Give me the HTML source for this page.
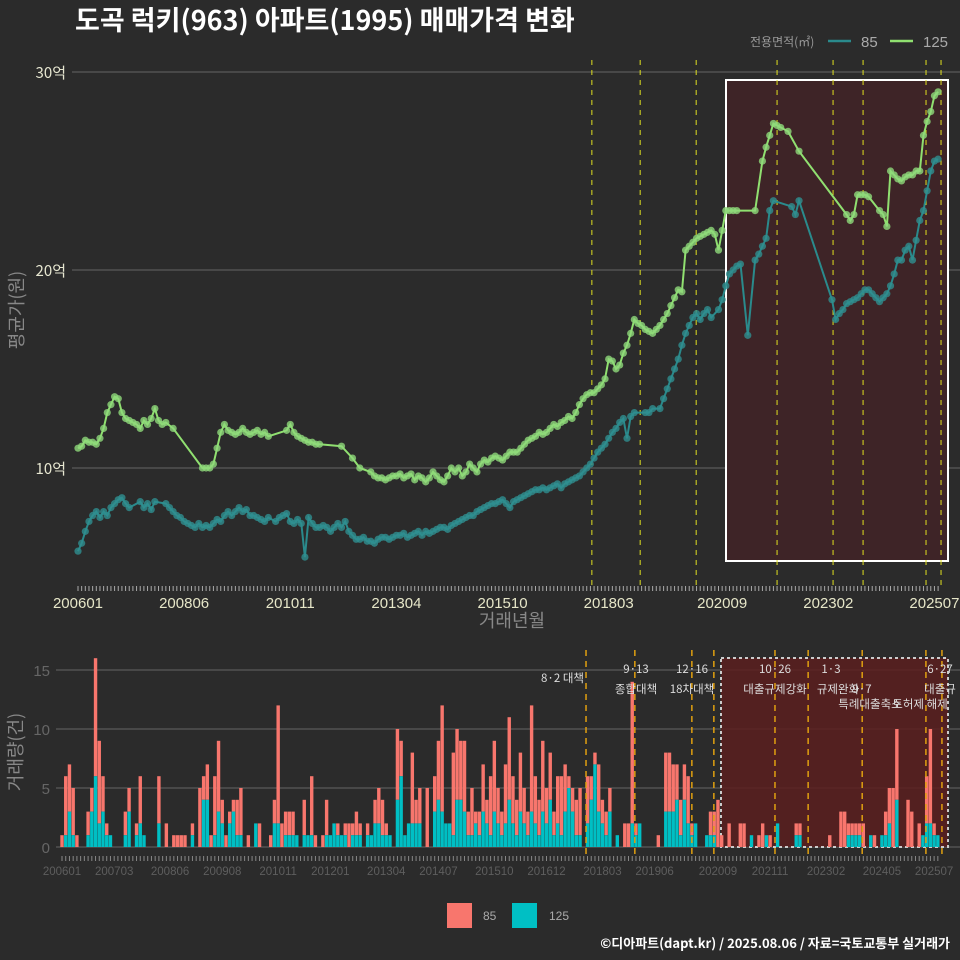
<!DOCTYPE html>
<html><head><meta charset="utf-8"><style>
html,body{margin:0;padding:0;background:#2b2b2b;}
svg{display:block;font-family:"Liberation Sans","Noto Sans CJK KR",sans-serif;}
</style></head><body>
<svg id="chart" width="960" height="960" viewBox="0 0 960 960" xmlns="http://www.w3.org/2000/svg">
<rect x="0" y="0" width="960" height="960" fill="#2b2b2b"/>
<text x="75" y="30" fill="#ffffff" font-size="27" font-weight="bold" font-family="'Noto Sans CJK KR',sans-serif">도곡 럭키(963) 아파트(1995) 매매가격 변화</text>
<g>
<text x="750" y="46" fill="#999" font-size="12" font-family="'Noto Sans CJK KR',sans-serif">전용면적(㎡)</text>
<line x1="828" y1="41" x2="851" y2="41" stroke="#2a8a8c" stroke-width="2.5"/>
<text x="861" y="47" fill="#aaa" font-size="15">85</text>
<line x1="890" y1="41" x2="913" y2="41" stroke="#90e070" stroke-width="2.5"/>
<text x="923" y="47" fill="#aaa" font-size="15">125</text>
</g>
<g id="topPanel"></g>
<g id="botPanel"></g>
<g>
<rect x="447" y="903" width="25" height="25" fill="#F8766D"/>
<text x="483" y="920" fill="#aaa" font-size="12">85</text>
<rect x="512" y="903" width="25" height="25" fill="#00BFC4"/>
<text x="549" y="920" fill="#aaa" font-size="12">125</text>
</g>
<text x="950" y="948" text-anchor="end" fill="#fff" font-size="13" font-weight="bold" font-family="'Noto Sans CJK KR',sans-serif">©디아파트(dapt.kr) / 2025.08.06 / 자료=국토교통부 실거래가</text>
</svg>
<script>
const N = null;
const price125 = [
11.0,11.1,11.4,11.3,11.3,11.2,11.5,12.0,12.8,13.2,13.6,13.5,
12.8,12.5,12.4,12.3,12.2,12.0,12.4,12.2,12.5,13.0,12.4,12.2,
12.3,N,12.0,N,N,N,N,N,N,N,10.0,10.0,
10.0,10.2,11.0,11.8,12.2,11.9,11.8,11.7,11.8,12.0,11.8,11.7,
11.8,11.9,11.7,11.8,11.6,N,N,N,N,11.9,12.2,11.8,
11.6,11.5,11.4,11.3,11.3,11.2,11.2,N,N,N,N,N,
11.1,N,N,10.5,N,10.0,N,N,9.8,9.6,9.5,9.5,
9.4,9.5,9.6,9.6,9.7,9.5,9.6,9.7,9.4,9.6,9.5,9.3,
9.5,9.8,9.6,9.4,9.3,9.6,10.0,9.8,10.0,9.6,9.8,10.2,
10.0,9.8,10.2,10.4,10.3,10.5,10.6,10.5,10.4,10.6,10.8,10.8,
10.8,11.0,11.2,11.4,11.5,11.6,11.8,11.7,11.8,12.0,12.2,12.1,
12.3,12.4,12.6,12.5,12.8,13.2,13.5,13.7,13.8,13.8,14.0,14.2,
14.5,15.5,15.4,15.0,15.2,15.8,16.2,16.8,17.5,17.3,17.2,17.0,
16.9,16.8,17.0,17.2,17.5,17.8,18.2,18.6,19.0,18.9,21.0,21.2,
21.4,21.6,21.7,21.8,21.9,22.0,21.8,21.0,22.0,23.0,23.0,23.0,
23.0,N,N,N,N,23.0,N,25.5,26.2,26.8,27.4,27.3,
27.2,N,27.0,N,N,26.0,N,N,N,N,N,N,
N,N,N,N,N,N,22.8,22.5,22.8,23.8,23.8,23.8,
23.7,N,N,23.0,22.8,22.2,25.0,24.8,24.6,24.5,24.7,24.8,
24.8,25.0,25.0,26.8,27.5,28.0,28.8,29.0];
const price85 = [
5.8,6.2,6.8,7.3,7.6,7.8,7.5,7.8,7.6,8.0,8.2,8.4,
8.5,8.2,8.0,N,N,8.3,8.0,8.2,7.9,8.3,N,N,
8.2,8.0,7.8,7.6,7.5,7.3,7.2,7.1,7.0,7.2,7.0,7.1,
7.0,7.2,7.4,7.3,7.6,7.8,7.6,7.8,8.0,7.8,7.9,7.6,
7.6,7.5,7.4,7.3,7.5,N,7.3,7.5,7.6,7.7,7.3,7.2,
7.4,7.2,5.5,7.5,7.2,7.0,7.0,7.1,7.0,6.8,7.0,7.2,
7.0,7.3,6.8,6.6,6.4,6.4,6.5,6.3,6.3,6.2,6.4,6.5,
6.5,6.4,6.5,6.6,6.6,6.7,6.5,6.6,6.7,6.8,6.6,6.8,
6.7,6.8,6.9,7.0,7.0,6.9,7.1,7.2,7.3,7.4,7.5,7.6,
7.6,7.8,7.9,8.0,8.1,8.2,8.2,8.3,8.4,8.2,8.0,8.3,
8.4,8.5,8.6,8.7,8.8,8.9,8.9,9.0,8.9,9.0,9.1,9.2,
9.0,9.2,9.3,9.4,9.5,9.6,9.8,10.0,10.2,10.5,10.8,11.0,
11.2,11.5,11.8,12.0,12.3,12.5,11.5,12.6,12.8,N,N,12.8,
12.8,13.0,N,13.0,13.5,14.0,14.5,15.0,15.5,16.2,16.8,17.2,
17.6,17.8,17.5,17.8,18.0,17.6,N,18.0,18.5,19.2,19.8,20.0,
20.2,20.3,N,16.7,N,20.5,20.8,21.2,21.6,23.0,23.5,N,
N,N,N,23.2,22.8,23.5,N,N,N,N,N,N,
N,N,18.5,17.5,17.8,18.0,18.3,18.4,18.5,18.6,18.8,19.0,
19.0,18.8,18.6,18.4,18.6,18.8,19.2,19.8,20.5,20.5,21.0,21.2,
20.5,21.5,22.5,23.0,24.0,25.0,25.5,25.6];
const vol85 = [
1,5,4,4,1,0,0,2,2,10,7,3,1,0,0,0,0,2,2,0,1,4,0,0,0,0,4,0,2,0,
1,1,1,1,0,1,0,5,2,3,1,5,6,2,1,1,1,3,4,0,1,0,0,2,0,0,1,2,10,2,
2,2,2,0,0,3,0,5,1,0,1,3,0,0,1,0,1,2,1,2,1,0,1,0,2,3,3,1,0,0,
6,3,0,0,6,2,3,0,5,0,3,5,9,0,0,7,6,5,6,2,4,1,2,4,2,5,6,3,2,5,
7,4,3,5,3,2,9,4,3,6,3,4,2,4,5,4,1,2,3,4,0,4,2,1,4,2,2,2,0,0,
0,2,2,12,1,0,0,0,0,0,1,0,5,5,4,3,3,3,4,1,0,0,0,0,2,2,4,1,0,2,
0,0,2,2,0,0,0,1,2,0,1,0,0,0,0,0,0,1,1,0,0,0,0,0,0,0,1,0,0,3,
3,1,1,1,1,2,0,0,1,0,0,2,3,5,6,0,0,4,3,0,2,0,4,8,1,0];
const vol125 = [
0,1,3,1,0,0,0,1,3,6,2,3,1,1,0,0,0,1,3,0,1,2,1,0,0,0,2,0,0,0,
0,0,0,0,0,1,0,0,4,4,0,1,3,2,0,2,3,1,1,0,0,0,2,0,0,0,0,2,2,0,
1,1,1,1,0,1,1,1,0,0,0,1,1,2,1,1,1,0,1,1,1,0,1,1,2,2,1,1,1,0,
4,6,1,2,2,2,2,0,0,0,3,4,3,2,2,1,4,4,3,1,1,2,1,3,2,1,3,2,1,2,
4,2,1,3,2,1,3,2,1,3,2,4,1,2,1,3,5,3,1,1,0,2,4,7,3,2,1,3,0,1,
0,0,0,2,1,2,0,0,0,0,0,0,3,3,3,4,1,4,2,1,2,0,0,1,1,1,0,0,0,0,
0,0,0,0,0,1,0,0,0,1,0,0,2,0,0,0,0,1,1,0,0,0,0,0,0,0,0,0,0,0,
0,1,1,1,1,0,0,1,0,0,1,1,2,0,4,0,0,0,0,0,0,1,2,2,1,1];
const priceTicks = [10,20,30];
const priceTickLabels = ["10억","20억","30억"];
const volTicks = [0,5,10,15];
const topXLabels = ["200601","200806","201011","201304","201510","201803","202009","202302","202507"];
const topXLabelMonths = [0,29,58,87,116,145,176,205,234];
const botXLabels = ["200601","200703","200806","200908","201011","201201","201304","201407","201510","201612","201803","201906","202009","202111","202302","202405","202507"];
const botXLabelMonths = [0,14,29,43,58,72,87,101,116,130,145,159,176,190,205,220,234];
const topPolicyMonths = [140.4,153.6,168.9,191,206.3,214.5,231.7,235.8];
const botPolicyMonths = [140.6,153.7,169,174.9,191.3,200.2,214.7,231.8,236.1];
const NM = 236;

const NS="http://www.w3.org/2000/svg";
function mk(tag, attrs, parent){const e=document.createElementNS(NS,tag);for(const k in attrs)e.setAttribute(k,attrs[k]);parent.appendChild(e);return e;}
const topG=document.getElementById('topPanel'), botG=document.getElementById('botPanel');
const tx = i => 78 + i*3.66;
const ty = v => 468 - (v-10)*19.8;
const bx = i => 62 + i*3.727;
const by = v => 847 - v*11.8;
const kr = "'Noto Sans CJK KR',sans-serif";

// ---- top panel ----
priceTicks.forEach((t,k)=>{
  const g=mk('line',{x1:72,x2:960,y1:ty(t),y2:ty(t),stroke:'#5a5a5a','stroke-width':1.2},topG);
  
  
  const l=mk('text',{x:66,y:ty(t)+6,'text-anchor':'end',fill:'#e6e6d0','font-size':15,'font-family':kr},topG);
  l.textContent=priceTickLabels[k];
  
  
});
const box=mk('rect',{x:726,y:80,width:222,height:481,fill:'#3e2427',stroke:'#ffffff','stroke-width':2},topG);


topPolicyMonths.forEach(m=>{
  const l=mk('line',{x1:tx(m),x2:tx(m),y1:60,y2:588,stroke:'#e0e020','stroke-width':1,'stroke-dasharray':'5,5'},topG);
  
  
});
function drawSeries(arr,color,ptColor,name){
  let d='';let first=true;
  arr.forEach((v,i)=>{ if(v===null)return; d+=(first?'M':'L')+tx(i).toFixed(1)+','+ty(v).toFixed(1); first=false;});
  const p=mk('path',{d:d,fill:'none',stroke:color,'stroke-width':2},topG);
  
  
  arr.forEach((v,i)=>{ if(v===null)return;
    const c=mk('circle',{cx:tx(i),cy:ty(v),r:3.6,fill:ptColor,'fill-opacity':0.8},topG);
    
    
  });
}
drawSeries(price85,'#2a8a8c','#2f8f90','series-85');
drawSeries(price125,'#90e070','#8fd97a','series-125');
for(let i=0;i<NM;i++){
  const t=mk('line',{x1:tx(i),x2:tx(i),y1:586,y2:591,stroke:'#aaa','stroke-width':1},topG);
  
  
}
topXLabels.forEach((s,k)=>{
  const t=mk('text',{x:tx(topXLabelMonths[k]),y:608,'text-anchor':'middle',fill:'#e6e6c8','font-size':15},topG);
  t.textContent=s;
  
  
});
const xt=mk('text',{x:512,y:627,'text-anchor':'middle',fill:'#888','font-size':18,'font-family':kr},topG);
xt.textContent='거래년월';


const yt=mk('text',{x:0,y:0,transform:'translate(23,310) rotate(-90)','text-anchor':'middle',fill:'#888','font-size':18,'font-family':kr},topG);
yt.textContent='평균가(원)';



// ---- bottom panel ----
volTicks.forEach(t=>{
  const g=mk('line',{x1:56,x2:960,y1:by(t),y2:by(t),stroke:'#5a5a5a','stroke-width':1.2},botG);
  
  
  const l=mk('text',{x:50,y:by(t)+6,'text-anchor':'end',fill:'#666','font-size':15},botG);
  l.textContent=String(t);
  
  
});
const bbox=mk('rect',{x:721,y:658,width:227,height:189,fill:'#5a1e1e','fill-opacity':0.85,stroke:'#cccccc','stroke-width':2,'stroke-dasharray':'3,3'},botG);


for(let i=0;i<NM;i++){
  const a=vol125[i]||0, b=vol85[i]||0;
  if(b>0){const r=mk('rect',{x:bx(i)-1.7,y:by(a+b),width:3.4,height:b*11.8,fill:'#F8766D'},botG);
    
    }
  if(a>0){const r=mk('rect',{x:bx(i)-1.7,y:by(a),width:3.4,height:a*11.8,fill:'#00BFC4'},botG);
    
    }
}
botPolicyMonths.forEach(m=>{
  const l=mk('line',{x1:bx(m),x2:bx(m),y1:650,y2:858,stroke:'#e0a010','stroke-width':1.5,'stroke-dasharray':'6,5'},botG);
  
  
});
const notes=[["8·2 대책",584,682,"end"],["9·13",636,673,"middle"],["종합대책",636,693,"middle"],["12·16",692,673,"middle"],["18차대책",692,693,"middle"],["10·26",775,673,"middle"],["대출규제강화",775,693,"middle"],["1·3",831,673,"middle"],["규제완화",838,693,"middle"],["9·7",862,693,"middle"],["특례대출축소",870,708,"middle"],["토허제 해제",920,708,"middle"],["6·27",940,673,"middle"],["대출규",940,693,"middle"]];
notes.forEach(n=>{
  const t=mk('text',{x:n[1],y:n[2],'text-anchor':n[3],fill:'#dddddd','font-size':11.5,'font-family':kr},botG);
  t.textContent=n[0];
  
  
});
for(let i=0;i<NM;i++){
  const t=mk('line',{x1:bx(i),x2:bx(i),y1:856,y2:861,stroke:'#888','stroke-width':1},botG);
  
  
}
botXLabels.forEach((s,k)=>{
  const t=mk('text',{x:bx(botXLabelMonths[k]),y:875,'text-anchor':'middle',fill:'#5e5e5e','font-size':11.5},botG);
  t.textContent=s;
  
  
});
const vt=mk('text',{x:0,y:0,transform:'translate(22,752) rotate(-90)','text-anchor':'middle',fill:'#888','font-size':18,'font-family':kr},botG);
vt.textContent='거래량(건)';


</script>
</body></html>
